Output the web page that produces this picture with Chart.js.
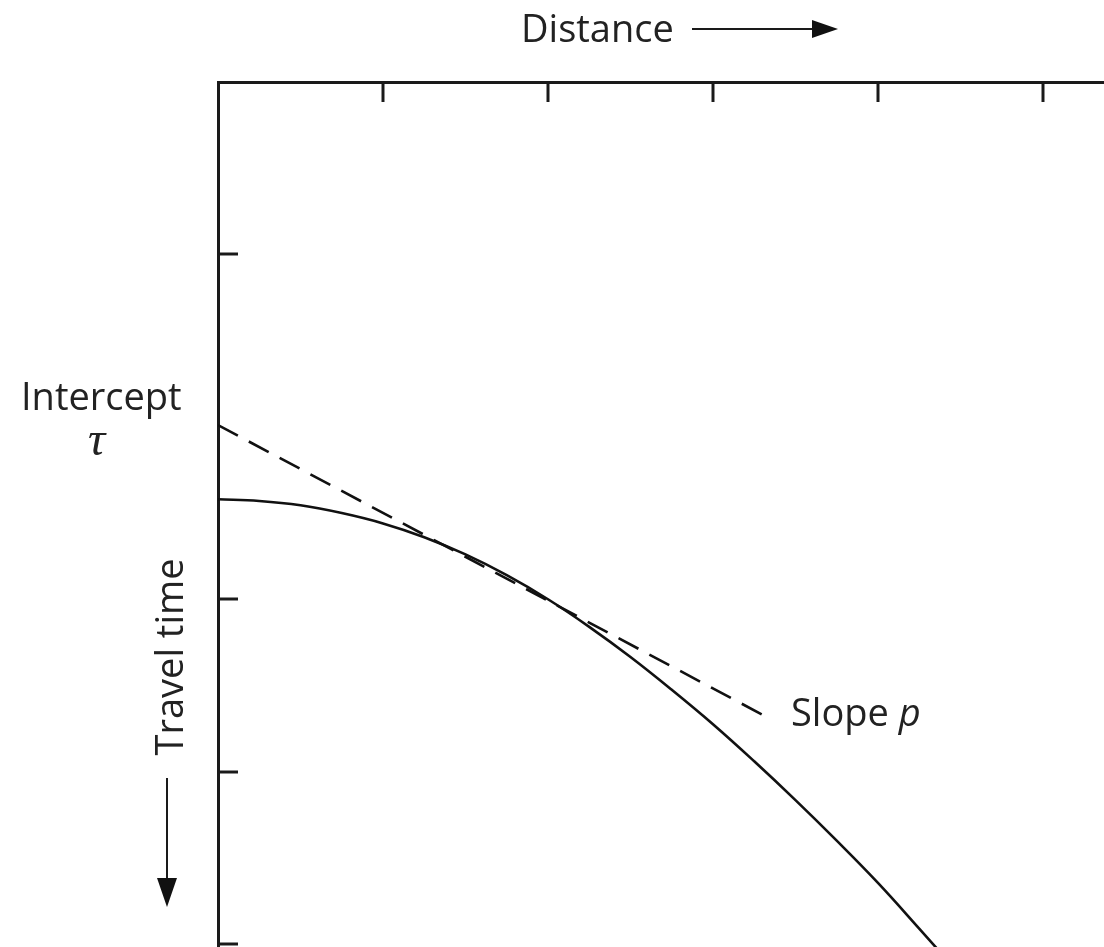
<!DOCTYPE html>
<html>
<head>
<meta charset="utf-8">
<script src="https://cdn.jsdelivr.net/npm/chart.js@4.4.0/dist/chart.umd.min.js"></script>
<style>
  body { margin: 0; background: #fff; }
  #wrap { position: relative; width: 1104px; height: 947px; overflow: hidden; }
  #plot { position: absolute; left: 0; top: 0; }
  .lbl { position: absolute; font-family: "Open Sans", sans-serif; font-size: 38px; line-height: 1; color: #222; white-space: nowrap; }
  .sym { font-family: "Liberation Serif", serif; font-style: italic; font-size: 48px; }
</style>
</head>
<body>
<div id="wrap">
  <canvas id="plot" width="1104" height="947"></canvas>
  <div class="lbl" style="left:521px; top:8px;">Distance</div>
  <div class="lbl" style="left:21px; top:376px;">Intercept</div>
  <div class="lbl sym" style="left:88px; top:415px;">τ</div>
  <div class="lbl" style="left:791px; top:692px;">Slope <span style="font-style:italic">p</span></div>
  <div class="lbl" style="left:48px; top:638px; width:240px; text-align:center; transform:rotate(-90deg);">Travel time</div>
</div>
<script>
let distance = [0, 0.25, 0.5, 0.75, 1.0, 1.25, 1.5, 1.75, 2.0, 2.25, 2.5, 2.75, 3.0, 3.25, 3.5, 3.75, 4.0, 4.25, 4.5];
let travelTime = [2.42, 2.43, 2.455, 2.5, 2.56, 2.64, 2.74, 2.86, 3.0, 3.16, 3.335, 3.525, 3.725, 3.94, 4.165, 4.4, 4.645, 4.91, 5.18];

// tangent line: intercept tau at distance 0, runs out to the "Slope p" label
let tangentX = [0, 3.3];
let tangentY = [1.99, 3.67];

let xTicks = [1, 2, 3, 4, 5];
let yTicks = [1, 3, 4, 5];

function toPoints(xs, ys) {
    return xs.map(function(x, i) { return { x: x, y: ys[i] }; });
}

// short tick marks pointing into the plot, plus the two axis arrows
const innerTicks = {
    id: 'innerTicks',
    afterDraw: function(c) {
        const ctx = c.ctx;
        const area = c.chartArea;
        const xs = c.scales.x;
        const ys = c.scales.y;
        ctx.save();
        ctx.strokeStyle = '#1a1a1a';
        ctx.lineWidth = 3;
        xTicks.forEach(function(v) {
            const px = Math.round(xs.getPixelForValue(v));
            ctx.beginPath();
            ctx.moveTo(px, area.top);
            ctx.lineTo(px, area.top + 20);
            ctx.stroke();
        });
        yTicks.forEach(function(v) {
            const py = Math.round(ys.getPixelForValue(v));
            ctx.beginPath();
            ctx.moveTo(area.left, py);
            ctx.lineTo(area.left + 20, py);
            ctx.stroke();
        });

        ctx.fillStyle = '#111';
        ctx.lineWidth = 2;
        // Distance arrow
        ctx.beginPath();
        ctx.moveTo(692, 29);
        ctx.lineTo(815, 29);
        ctx.stroke();
        ctx.beginPath();
        ctx.moveTo(838, 29);
        ctx.lineTo(812, 20);
        ctx.lineTo(812, 38);
        ctx.closePath();
        ctx.fill();
        // Travel time arrow
        ctx.beginPath();
        ctx.moveTo(167, 778);
        ctx.lineTo(167, 882);
        ctx.stroke();
        ctx.beginPath();
        ctx.moveTo(167, 907);
        ctx.lineTo(157, 878);
        ctx.lineTo(177, 878);
        ctx.closePath();
        ctx.fill();
        ctx.restore();
    }
};

function setupChart() {
    const ctx = document.getElementById('plot').getContext('2d');
    new Chart(ctx, {
        type: 'line',
        data: {
            datasets: [{
                data: toPoints(distance, travelTime),
                borderColor: '#111',
                borderWidth: 2.6,
                pointRadius: 0,
                tension: 0.4,
                fill: false
            }, {
                data: toPoints(tangentX, tangentY),
                borderColor: '#111',
                borderWidth: 2.6,
                borderDash: [22.5, 12.4],
                pointRadius: 0,
                fill: false
            }]
        },
        options: {
            responsive: false,
            animation: false,
            devicePixelRatio: 1,
            layout: { padding: { left: 218, top: 82, right: 0, bottom: 0 } },
            plugins: {
                legend: { display: false },
                tooltip: { enabled: false }
            },
            scales: {
                x: {
                    type: 'linear',
                    position: 'top',
                    min: 0,
                    max: 5.37,
                    ticks: { display: false },
                    grid: { display: false, drawTicks: false },
                    border: { display: true, color: '#1a1a1a', width: 3 }
                },
                y: {
                    type: 'linear',
                    reverse: true,
                    min: 0,
                    max: 5.017,
                    ticks: { display: false },
                    grid: { display: false, drawTicks: false },
                    border: { display: true, color: '#1a1a1a', width: 3 }
                }
            }
        },
        plugins: [innerTicks]
    });
}

setupChart();
</script>
</body>
</html>
